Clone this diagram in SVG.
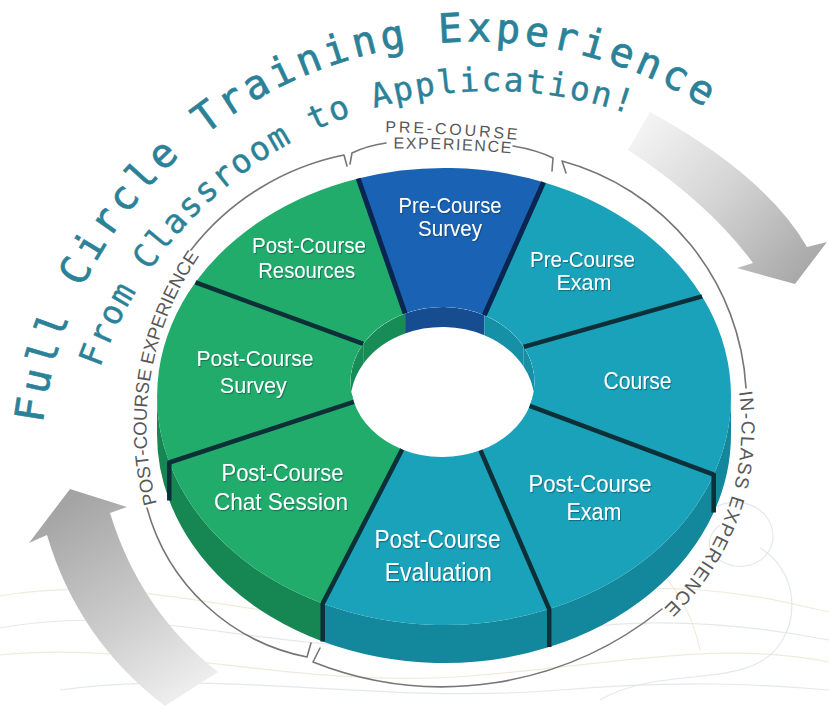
<svg xmlns="http://www.w3.org/2000/svg" width="829" height="712" viewBox="0 0 829 712">
  <style>
    .title{font-family:"DejaVu Sans Mono","Liberation Mono",monospace;fill:#2b8298;stroke:#2b8298;stroke-width:0.7}
    .t1{font-size:40px;letter-spacing:4.2px}
    .t2{font-size:33px;letter-spacing:1.9px;stroke-width:0.4}
    .lbl{font-family:"Liberation Sans",Arial,sans-serif;fill:#ffffff;text-anchor:middle}
    .phase{font-family:"Liberation Sans",Arial,sans-serif;fill:#585858}
    .bracket{fill:none;stroke:#767676;stroke-width:1.6;stroke-linecap:round;stroke-linejoin:round}
    .green{fill:#22ac6c}.green-side{fill:#168752}.green-wall{fill:#178c56}
    .blue{fill:#1a62b3}.blue-wall{fill:#164d90}
    .teal{fill:#1aa2ba}.teal-side{fill:#13879c}.teal-wall{fill:#1690a7}
    .divider{fill:none;stroke:#0c2f38;stroke-width:4.5;stroke-linejoin:round}
    .divider.navy{stroke:#0a2550;stroke-width:5}
    .swirl{fill:none;stroke-width:1.2;opacity:0.8}
    .beige{stroke:#ebe6d2}.mist{stroke:#dde2e8}
  </style>
  <defs>
    <filter id="txtShadow" x="-5%" y="-10%" width="112%" height="125%">
      <feDropShadow dx="1" dy="1.2" stdDeviation="0.7" flood-color="#003040" flood-opacity="0.45"/>
    </filter>
    <clipPath id="hole">
      <ellipse cx="442.5" cy="382" rx="92" ry="75"/>
    </clipPath>
    <linearGradient id="arrowDown" gradientUnits="userSpaceOnUse" x1="640" y1="125" x2="800" y2="275">
      <stop offset="0" stop-color="#f4f4f4"/>
      <stop offset="0.5" stop-color="#d3d3d3"/>
      <stop offset="1" stop-color="#a9a9a9"/>
    </linearGradient>
    <linearGradient id="arrowUp" gradientUnits="userSpaceOnUse" x1="70" y1="500" x2="195" y2="705">
      <stop offset="0" stop-color="#a4a4a4"/>
      <stop offset="0.55" stop-color="#cdcdcd"/>
      <stop offset="1" stop-color="#f3f3f3"/>
    </linearGradient>
    <!-- baselines for the curved headings and phase labels -->
    <path id="titleArc" d="M 42.7,423.4 A 435 435 0 0 1 830.8,226.9"/>
    <path id="subArc" d="M 100,368 A 416 416 0 0 1 700,146.7"/>
    <path id="postArc" d="M 186.7,576 A 300 300 0 0 1 253.7,196.2"/>
    <path id="inClassArc" d="M 732.9,362 A 250.7 250.7 0 0 1 634.5,632.3"/>
    <path id="preArc1" d="M 360,132 Q 452,132 545,143"/>
    <path id="preArc2" d="M 366,149 Q 452,147 540,156"/>
  </defs>

  <rect width="829" height="712" fill="#ffffff"/>

  <!-- faint decorative waves along the bottom -->
  <g id="backdrop">
    <path class="swirl beige" d="M 0,596 C 120,575 220,610 330,618 C 470,628 560,580 700,590 C 760,594 800,606 829,612"/>
    <path class="swirl mist" d="M 0,628 C 140,602 260,650 400,646 C 540,642 620,600 829,640"/>
    <path class="swirl beige" d="M 0,655 C 150,640 300,690 470,676 C 620,664 720,640 829,662"/>
    <path class="swirl mist" d="M 60,690 C 220,668 380,705 560,690 C 680,680 760,684 829,690"/>
    <path class="swirl mist" d="M 690,540 C 700,500 745,492 765,515 C 785,540 765,570 735,566 C 710,562 700,540 720,525"/>
    <path class="swirl mist" d="M 760,548 C 805,575 800,640 760,662 C 720,684 650,670 600,700"/>
    <path class="swirl beige" d="M 600,520 C 660,560 690,600 700,650"/>
  </g>

  <!-- heading along the top of the wheel -->
  <g id="heading">
    <text class="title t1"><textPath href="#titleArc">Full Circle Training Experience</textPath></text>
    <text class="title t2"><textPath href="#subArc">From Classroom to Application!</textPath></text>
  </g>

  <!-- cycle arrows -->
  <g id="connectors">
    <path fill="url(#arrowDown)" d="M 650,112 Q 765,175 807,247 L 827,242 L 795,284 L 737,268 L 753,263 Q 709,203 628,150 Z"/>
    <path fill="url(#arrowUp)" d="M 47,535 Q 78,640 165,706 L 218,672 Q 140,611 110,513 L 127,507 L 70,489 L 29,543 Z"/>
  </g>

  <!-- phase brackets round the wheel -->
  <g id="phase-pre-course">
    <path class="bracket" d="M 350,164 L 352,153 Q 366,146 386,143"/>
    <path class="bracket" d="M 513,146 Q 537,150 553,158 L 552,171"/>
    <text class="phase" font-size="16" letter-spacing="2.8" text-anchor="middle"><textPath href="#preArc1" startOffset="50%">PRE-COURSE</textPath></text>
    <text class="phase" font-size="16" letter-spacing="1.6" text-anchor="middle"><textPath href="#preArc2" startOffset="50%">EXPERIENCE</textPath></text>
  </g>
  <g id="phase-in-class">
    <path class="bracket" d="M 566,173 L 562,161 A 250 250 0 0 1 746,388"/>
    <path class="bracket" d="M 662,609 A 350 350 0 0 1 313,662 L 320,648"/>
    <text class="phase" font-size="19" letter-spacing="1.25" text-anchor="middle"><textPath href="#inClassArc" startOffset="150">IN-CLASS EXPERIENCE</textPath></text>
  </g>
  <g id="phase-post-course">
    <path class="bracket" d="M 347,166 L 344,155 A 258 258 0 0 0 191,250"/>
    <path class="bracket" d="M 147,508 A 207.5 207.5 0 0 0 307,657 L 311,643"/>
    <text class="phase" font-size="18.5" text-anchor="middle"><textPath href="#postArc" startOffset="208">POST-COURSE EXPERIENCE</textPath></text>
  </g>

  <!-- wheel segments, clockwise from the top -->
  <g id="pre-course-survey">
    <path class="blue-wall" clip-path="url(#hole)" d="M 405.1,313.5 A 92 75 0 0 1 484.3,315.2 L 484.3,335.2 A 92 75 0 0 0 405.1,333.5 Z"/>
    <path class="blue" d="M 358.2,178.5 A 287 228.5 0 0 1 543.6,182.2 L 484.3,315.2 A 92 75 0 0 0 405.1,313.5 Z"/>
    <g class="lbl" filter="url(#txtShadow)" font-size="22">
      <text x="450" y="213" textLength="103" lengthAdjust="spacingAndGlyphs">Pre-Course</text>
      <text x="450" y="236" textLength="64" lengthAdjust="spacingAndGlyphs">Survey</text>
    </g>
  </g>
  <g id="pre-course-exam">
    <path class="teal-wall" clip-path="url(#hole)" d="M 484.3,315.2 A 92 75 0 0 1 523.7,346.8 L 523.7,366.8 A 92 75 0 0 0 484.3,335.2 Z"/>
    <path class="teal" d="M 543.6,182.2 A 287 228.5 0 0 1 702,296.3 L 523.7,346.8 A 92 75 0 0 0 484.3,315.2 Z"/>
    <g class="lbl" filter="url(#txtShadow)" font-size="21.5">
      <text x="582.5" y="267" textLength="105" lengthAdjust="spacingAndGlyphs">Pre-Course</text>
      <text x="584" y="290" textLength="55" lengthAdjust="spacingAndGlyphs">Exam</text>
    </g>
  </g>
  <g id="course">
    <path class="teal-side" d="M 731,396.5 A 287 228.5 0 0 1 713.7,474.6 L 713.7,512.6 A 287 228.5 0 0 0 731,434.5 Z"/>
    <path class="teal-wall" clip-path="url(#hole)" d="M 523.7,346.8 A 92 75 0 0 1 529.7,405.9 L 529.7,425.9 A 92 75 0 0 0 523.7,366.8 Z"/>
    <path class="teal" d="M 702,296.3 A 287 228.5 0 0 1 713.7,474.6 L 529.7,405.9 A 92 75 0 0 0 523.7,346.8 Z"/>
    <g class="lbl" filter="url(#txtShadow)" font-size="24">
      <text x="637.5" y="389" textLength="68" lengthAdjust="spacingAndGlyphs">Course</text>
    </g>
  </g>
  <g id="post-course-exam">
    <path class="teal-side" d="M 713.7,474.6 A 287 228.5 0 0 1 549.2,609.1 L 549.2,647.1 A 287 228.5 0 0 0 713.7,512.6 Z"/>
    <path class="teal" d="M 713.7,474.6 A 287 228.5 0 0 1 549.2,609.1 L 480.5,450.3 A 92 75 0 0 0 529.7,405.9 Z"/>
    <g class="lbl" filter="url(#txtShadow)" font-size="23.5">
      <text x="590" y="492" textLength="123" lengthAdjust="spacingAndGlyphs">Post-Course</text>
      <text x="594" y="520" textLength="55" lengthAdjust="spacingAndGlyphs">Exam</text>
    </g>
  </g>
  <g id="post-course-evaluation">
    <path class="teal-side" d="M 549.2,609.1 A 287 228.5 0 0 1 322.7,603.6 L 322.7,641.6 A 287 228.5 0 0 0 549.2,647.1 Z"/>
    <path class="teal" d="M 549.2,609.1 A 287 228.5 0 0 1 322.7,603.6 L 402.2,449.4 A 92 75 0 0 0 480.5,450.3 Z"/>
    <g class="lbl" filter="url(#txtShadow)" font-size="26">
      <text x="437.5" y="548" textLength="126" lengthAdjust="spacingAndGlyphs">Post-Course</text>
      <text x="438.3" y="580.5" textLength="107" lengthAdjust="spacingAndGlyphs">Evaluation</text>
    </g>
  </g>
  <g id="post-course-chat-session">
    <path class="green-side" d="M 322.7,603.6 A 287 228.5 0 0 1 169.3,462.5 L 169.3,500.5 A 287 228.5 0 0 0 322.7,641.6 Z"/>
    <path class="green" d="M 322.7,603.6 A 287 228.5 0 0 1 169.3,462.5 L 353.8,401.8 A 92 75 0 0 0 402.2,449.4 Z"/>
    <g class="lbl" filter="url(#txtShadow)" font-size="24">
      <text x="282.5" y="481" textLength="122" lengthAdjust="spacingAndGlyphs">Post-Course</text>
      <text x="281" y="510" textLength="134" lengthAdjust="spacingAndGlyphs">Chat Session</text>
    </g>
  </g>
  <g id="post-course-survey">
    <path class="green-side" d="M 169.3,462.5 A 287 228.5 0 0 1 157,396.5 L 157,434.5 A 287 228.5 0 0 0 169.3,500.5 Z"/>
    <path class="green-wall" clip-path="url(#hole)" d="M 353.8,401.8 A 92 75 0 0 1 363.2,343.9 L 363.2,363.9 A 92 75 0 0 0 353.8,421.8 Z"/>
    <path class="green" d="M 169.3,462.5 A 287 228.5 0 0 1 195.5,282.3 L 363.2,343.9 A 92 75 0 0 0 353.8,401.8 Z"/>
    <g class="lbl" filter="url(#txtShadow)" font-size="22.5">
      <text x="255" y="366" textLength="117" lengthAdjust="spacingAndGlyphs">Post-Course</text>
      <text x="253.3" y="392.5" textLength="67" lengthAdjust="spacingAndGlyphs">Survey</text>
    </g>
  </g>
  <g id="post-course-resources">
    <path class="green-wall" clip-path="url(#hole)" d="M 363.2,343.9 A 92 75 0 0 1 405.1,313.5 L 405.1,333.5 A 92 75 0 0 0 363.2,363.9 Z"/>
    <path class="green" d="M 195.5,282.3 A 287 228.5 0 0 1 358.2,178.5 L 405.1,313.5 A 92 75 0 0 0 363.2,343.9 Z"/>
    <g class="lbl" filter="url(#txtShadow)" font-size="21.5">
      <text x="309" y="253" textLength="114" lengthAdjust="spacingAndGlyphs">Post-Course</text>
      <text x="306.7" y="278" textLength="97" lengthAdjust="spacingAndGlyphs">Resources</text>
    </g>
  </g>

  <!-- dark seams between segments -->
  <g id="seams">
    <path class="divider navy" d="M 405.1,313.5 L 358.2,178.5"/>
    <path class="divider navy" d="M 484.3,315.2 L 543.6,182.2"/>
    <path class="divider" d="M 523.7,346.8 L 702,296.3"/>
    <path class="divider" d="M 529.7,405.9 L 713.7,474.6 L 713.7,512.6"/>
    <path class="divider" d="M 480.5,450.3 L 549.2,609.1 L 549.2,647.1"/>
    <path class="divider" d="M 402.2,449.4 L 322.7,603.6 L 322.7,641.6"/>
    <path class="divider" d="M 353.8,401.8 L 169.3,462.5 L 169.3,500.5"/>
    <path class="divider" d="M 363.2,343.9 L 195.5,282.3"/>
  </g>
</svg>
